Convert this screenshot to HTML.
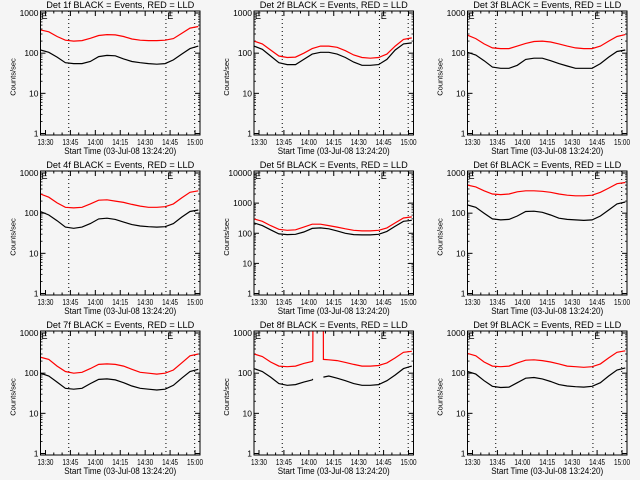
<!DOCTYPE html>
<html><head><meta charset="utf-8"><style>
html,body{margin:0;padding:0;background:#f5f5f5;}
svg{display:block;font-family:"Liberation Sans",sans-serif;}
</style></head><body>
<svg id="chart" width="640" height="480" viewBox="0 0 640 480" xmlns="http://www.w3.org/2000/svg"></svg>
<script>
const detNames = ["1f","2f","3f","4f","5f","6f","7f","8f","9f"];
const times = [27,32,37,42,47,52,57,62,67,72,77,82,87,92,97,102,107,112,117,122]; // minutes past 13:00
const times8 = [27,32,37,42,47,52,57,62,62.4,62.5,68.7,68.8,72,77,82,87,92,97,102,107,112,117,122];
const xTickLabels = ["13:30","13:45","14:00","14:15","14:30","14:45","15:00"];
const xTickMinutes = [30,45,60,75,90,105,120];
const markerMinutes = [44,102.5,119.8];
const red1 = [380,340,260,210,200,205,235,275,290,285,260,225,210,205,205,210,230,310,420,460];
const blk1 = [120,105,80,58,55,55,62,82,88,86,72,62,58,55,53,55,68,95,130,150];
const red2 = [200,170,120,85,78,80,100,130,150,150,140,115,90,78,75,78,95,150,220,240];
const blk2 = [150,125,85,58,52,52,70,95,105,105,95,78,60,50,50,52,70,120,170,180];
const red3 = [280,230,170,135,130,130,150,175,195,200,190,170,150,135,130,130,150,200,260,290];
const blk3 = [105,90,65,45,42,42,50,70,75,75,65,55,48,42,42,42,55,80,110,120];
const red4 = [300,250,180,140,135,140,170,210,215,200,185,165,150,140,140,145,170,240,330,360];
const blk4 = [110,90,65,45,42,45,55,72,75,70,60,52,48,46,45,46,55,80,110,120];
const red5 = [300,250,180,135,125,130,160,200,200,180,160,140,125,120,120,125,150,220,320,350];
const blk5 = [220,180,130,95,90,92,110,145,150,140,120,100,90,88,88,92,115,170,250,270];
const red6 = [500,450,360,300,290,300,340,360,360,350,330,300,280,270,270,280,330,420,540,580];
const blk6 = [160,140,100,72,68,70,85,110,112,105,90,75,70,68,66,68,85,120,170,190];
const red7 = [250,220,150,110,100,105,130,165,170,165,150,125,105,100,95,100,120,180,270,300];
const blk7 = [100,85,60,42,40,42,55,70,72,68,58,48,42,40,38,40,50,75,110,125];
const red8 = [300,260,190,150,145,150,175,195,200,5000,5000,220,215,205,185,165,150,150,155,180,240,330,350];
const blk8 = [130,110,80,55,50,52,60,68,72,null,null,80,85,75,65,55,50,50,52,65,90,130,150];
const red9 = [310,270,190,150,145,150,180,210,215,205,190,170,150,145,140,145,170,240,330,360];
const blk9 = [110,95,65,47,44,45,58,75,78,72,62,52,48,46,45,47,58,85,120,135];
const decadesPerPanel = [3,3,3,3,4,3,3,3,3];

const reds=[red1,red2,red3,red4,red5,red6,red7,red8,red9];
const blks=[blk1,blk2,blk3,blk4,blk5,blk6,blk7,blk8,blk9];
const NS="http://www.w3.org/2000/svg";
const svg=document.getElementById('chart');
function mk(tag,attrs,parent){const e=document.createElementNS(NS,tag);for(const k in attrs)e.setAttribute(k,attrs[k]);(parent||svg).appendChild(e);return e;}
const colL=[40.5,254,467.5], rowT=[11,171,331], W=159.5, H=124;
for(let p=0;p<9;p++){
  const L=colL[p%3], T=rowT[Math.floor(p/3)], B=T+H;
  const dec=decadesPerPanel[p], per=(H-3.5)/dec;
  const xs=m=>L+(m-27)*(W/96);
  const ys=v=>B-1.5-Math.log10(v)*per;
  const g=mk('g',{});
  
  
  const cp=mk('clipPath',{id:'cp'+p},g); mk('rect',{x:L,y:T,width:W,height:H},cp);
  const t=mk('text',{x:L+W/2,y:T-3,'text-anchor':'middle','font-size':9.5,textLength:148,lengthAdjust:'spacingAndGlyphs',fill:'#000'},g);
  t.textContent='Det '+detNames[p]+' BLACK = Events, RED = LLD';
  
  
  const yt=mk('text',{x:0,y:0,'text-anchor':'middle','font-size':7.5,transform:`translate(${L-25},${T+H/2+4}) rotate(-90)`},g);
  yt.textContent='Counts/sec';
  
  
  for(let d=0;d<=dec;d++){
    const y=ys(Math.pow(10,d));
    mk('line',{x1:L,x2:L+5,y1:y,y2:y,stroke:'#000'},g);
    mk('line',{x1:L+W-5,x2:L+W,y1:y,y2:y,stroke:'#000'},g);
    const lb=mk('text',{x:L-2,y:y+3,'text-anchor':'end','font-size':8.5},g);
    lb.textContent=String(Math.pow(10,d));
    
    
    if(d<dec){for(let k=2;k<=9;k++){const ym=ys(k*Math.pow(10,d));
      mk('line',{x1:L,x2:L+2,y1:ym,y2:ym,stroke:'#000','stroke-width':0.8},g);
      mk('line',{x1:L+W-2,x2:L+W,y1:ym,y2:ym,stroke:'#000','stroke-width':0.8},g);}}
  }
  for(let m=30;m<=120;m+=5){const x=xs(m);const len=(m%15===0)?5:2.5;
    mk('line',{x1:x,x2:x,y1:B,y2:B-len,stroke:'#000'},g);
    mk('line',{x1:x,x2:x,y1:T,y2:T+len,stroke:'#000'},g);}
  xTickMinutes.forEach((m,i)=>{const lb=mk('text',{x:xs(m),y:B+10,'text-anchor':'middle','font-size':8,textLength:16,lengthAdjust:'spacingAndGlyphs'},g);
    lb.textContent=xTickLabels[i];
    
    });
  const xl=mk('text',{x:L+W/2,y:B+19,'text-anchor':'middle','font-size':9,textLength:112,lengthAdjust:'spacingAndGlyphs'},g);
  xl.textContent='Start Time (03-Jul-08 13:24:20)';
  
  
  markerMinutes.forEach(m=>{const x=xs(m);mk('line',{x1:x,x2:x,y1:T,y2:B,stroke:'#000','stroke-dasharray':'1,3'},g);});
  [27.6,103.3].forEach(m=>{const e=mk('text',{x:xs(m),y:T+8,'font-size':9},g);e.textContent='E';
    
    });
  const tt=(p===7)?times8:times;
  [[blks[p],'#000','events-line'],[reds[p],'#ff0000','lld-line']].forEach(([vals,col,nm])=>{
    let d='',pen=false;
    vals.forEach((v,i)=>{if(v==null){pen=false;return;}d+=(pen?'L':'M')+xs(tt[i]).toFixed(1)+','+ys(v).toFixed(1);pen=true;});
    const pa=mk('path',{d:d,fill:'none',stroke:col,'stroke-width':1.2,'clip-path':`url(#cp${p})`},g);
    
    
  });
  mk('rect',{x:L,y:T,width:W,height:H,fill:'none',stroke:'#000','stroke-width':1},g);
}
</script>
</body></html>
